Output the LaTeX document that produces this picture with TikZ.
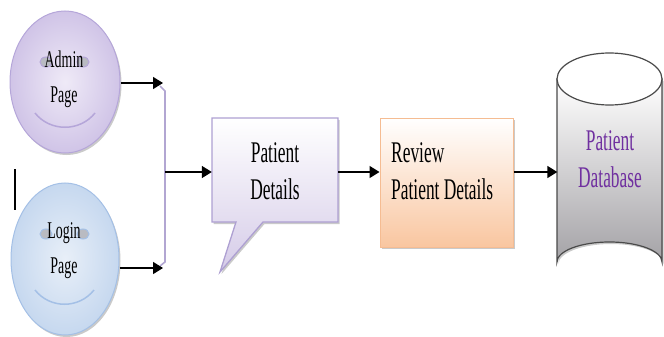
\documentclass[tikz,border=0pt]{standalone}
\usepackage{fontspec}
\setmainfont{Liberation Serif}[FakeStretch=0.58]
\usetikzlibrary{arrows.meta,shapes.geometric,shadows}
\definecolor{adminIn}{HTML}{EFEAF7}
\definecolor{adminOut}{HTML}{D0C4E7}
\definecolor{adminLine}{HTML}{B5A6D9}
\definecolor{loginIn}{HTML}{E8EFF8}
\definecolor{loginOut}{HTML}{C6D8EF}
\definecolor{loginLine}{HTML}{A4C0E6}
\definecolor{eyeGray}{HTML}{B9BBC2}
\definecolor{pdBot}{HTML}{D5CBE8}
\definecolor{pdLine}{HTML}{AEA0D2}
\definecolor{revBot}{HTML}{F9C6A0}
\definecolor{revLine}{HTML}{F5BC92}
\definecolor{dbBot}{HTML}{A4A2A6}
\definecolor{dbLine}{HTML}{4A4A4A}
\definecolor{dbText}{HTML}{7030A0}
\definecolor{brk}{HTML}{B2A6D2}
\tikzset{
  arr/.style={line width=1.6pt, -{Triangle[length=10pt,width=12pt]}},
  shd/.style={drop shadow={shadow xshift=1.5pt, shadow yshift=-2pt, opacity=0.35, fill=black!60}},
  small/.style={font=\fontsize{24}{35}\selectfont, align=center, inner sep=0pt},
  big/.style={font=\fontsize{30}{37}\selectfont, inner sep=0pt},
}
\begin{document}
\begin{tikzpicture}[x=1pt,y=-1pt]
\useasboundingbox (0,0) rectangle (664,337);
% Admin page
\node[ellipse, minimum width=110pt, minimum height=142pt, inner color=adminIn, outer color=adminOut, draw=adminLine, line width=1pt, shd] (admin) at (65,82) {};
\node[ellipse, minimum width=12pt, minimum height=10pt, fill=eyeGray, draw=adminLine, line width=1pt] (ae1) at (46,62) {};
\node[ellipse, minimum width=12pt, minimum height=10pt, fill=eyeGray, draw=adminLine, line width=1pt] (ae2) at (83,62) {};
\coordinate (as1) at (35,113);
\coordinate (as2) at (95,113);
\draw[adminLine, line width=1.5pt] (as1) .. controls (50,132) and (80,132) .. (as2);
\node[small] (admintxt) at (64,79) {Admin\\Page};
% Login page
\node[ellipse, minimum width=108pt, minimum height=152pt, inner color=loginIn, outer color=loginOut, draw=loginLine, line width=1pt, shd] (login) at (65,259) {};
\node[ellipse, minimum width=12pt, minimum height=10pt, fill=eyeGray, draw=loginLine, line width=1pt] (le1) at (46,234) {};
\node[ellipse, minimum width=12pt, minimum height=10pt, fill=eyeGray, draw=loginLine, line width=1pt] (le2) at (83,234) {};
\coordinate (ls1) at (35,290);
\coordinate (ls2) at (94,290);
\draw[loginLine, line width=1.5pt] (ls1) .. controls (50,309) and (79,309) .. (ls2);
\node[small] (logintxt) at (64,251) {Login\\Page};
% stray mark
\coordinate (s1) at (15,169);
\coordinate (s2) at (15,210);
\draw[line width=1.4pt] (s1) -- (s2);
% bracket
\coordinate (j1) at (163,83);
\coordinate (j2) at (163,268);
\coordinate (m) at (165,172);
\draw[brk, line width=1.6pt] (160,86) -- (165,91) -- (165,262) -- (160,266);
\draw[arr] (admin.east |- j1) -- (j1);
\draw[arr] (login.east |- j2) -- (j2);
% Patient details callout
\path[top color=white, bottom color=pdBot, draw=pdLine, line width=1.3pt, shd]
  (212,118) -- (338,118) -- (338,222) -- (263,222) -- (220,272) -- (236,222) -- (212,222) -- cycle;
\node[big, align=center, minimum width=126pt, minimum height=104pt] (pd) at (275,171) {Patient\\Details};
% Review box
\node[rectangle, minimum width=133pt, minimum height=129pt, top color=white, bottom color=revBot, draw=revLine, line width=1pt, shd] (rev) at (446.5,182.5) {};
\node[big, align=left, anchor=west] (revtxt) at (391,171) {Review\\Patient Details};
% Database cylinder
\path[top color=white, bottom color=dbBot, draw=dbLine, line width=1.2pt, shd]
  (557,79) -- (557,262) arc[start angle=180, end angle=0, x radius=52.5pt, y radius=20pt] -- (662,79) -- cycle;
\draw[fill=white, draw=dbLine, line width=1.2pt] (609.5,79) ellipse[x radius=52.5pt, y radius=26pt];
\node[big, align=center, text=dbText, minimum width=105pt] (db) at (610,159) {Patient\\Database};
% connectors
\draw[arr] (m) -- (m -| pd.west);
\draw[arr] (pd.east |- m) -- (rev.west |- m);
\draw[arr] (rev.east |- m) -- (db.west |- m);
\end{tikzpicture}
\end{document}
